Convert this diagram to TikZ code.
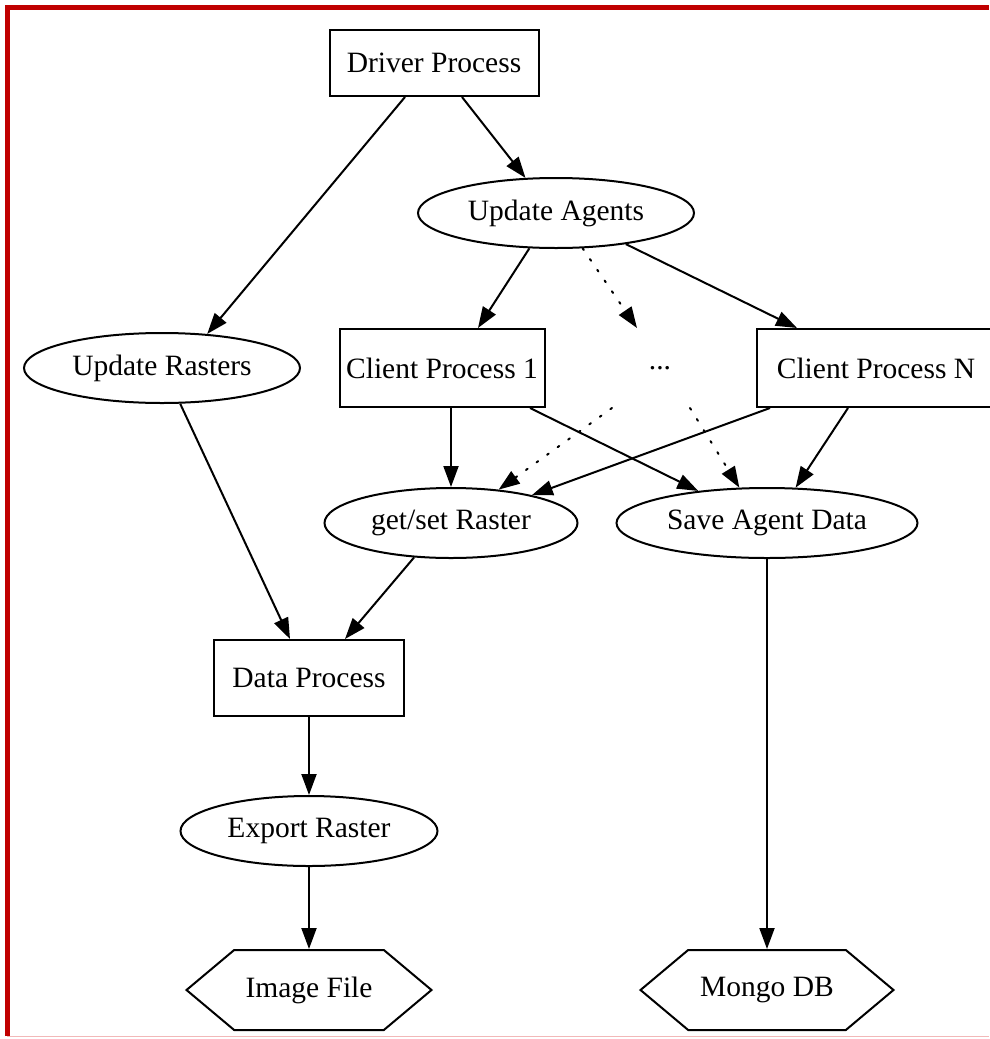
\documentclass[tikz,border=0pt]{standalone}
\usepackage{fontspec}
\setmainfont{Liberation Serif}
\usepackage{tikz}
\usetikzlibrary{arrows.meta,%
                shapes.geometric,%
                shapes.symbols}
\definecolor{frame}{HTML}{C00000}
\definecolor{framelow}{HTML}{F2B8B8}

\tikzset{
  every node/.style={font=\fontsize{29.5}{35}\selectfont, inner sep=0pt},
  procbox/.style={draw, rectangle, line width=2pt},
  task/.style={draw, ellipse, line width=2pt, minimum height=70},
  store/.style={draw, shape=signal, signal to=west and east, signal pointer angle=80,
                line width=2pt, minimum height=80},
  dotline/.style={dash pattern=on 2pt off 11pt, line cap=round}
}

\begin{document}
\begin{tikzpicture}[x=1pt, y=-1pt, line width=2pt,
                    >={Triangle[length=21pt,width=15pt]}]
        \useasboundingbox (0,0) rectangle (989,1039);
        % frame of the screenshot
        \draw[frame, line width=5pt] (7,1036) -- (7,7) -- (989,7);
        \draw[framelow, line width=1pt] (7,1036.5) -- (989,1036.5);

        \node[procbox, minimum width=209, minimum height=66] (driver) at (434,63){Driver Process};
        \node[task, minimum width=276] (agents) at (556,213){Update Agents};
        \node[task, minimum width=276] (rasters) at (162,368){Update Rasters};
        \node[procbox, minimum width=205, minimum height=78] (client1) at (442,368){Client Process 1};
        \node[minimum width=60, minimum height=78] (dots) at (660,368){...};
        \node[procbox, minimum width=238, minimum height=78] (clientN) at (876,368){Client Process N};
        \node[task, minimum width=253] (getset) at (451,523){get/set Raster};
        \node[task, minimum width=301] (save) at (767,523){Save Agent Data};
        \node[procbox, minimum width=190, minimum height=76] (data) at (309,678){Data Process};
        \node[task, minimum width=257] (export) at (309,831){Export Raster};
        \node[store, minimum width=245] (image) at (309,990){Image File};
        \node[store, minimum width=253] (mongo) at (767,990){Mongo DB};

        \draw[->] ([xshift=-29pt]driver.south) -- (rasters.37);
        \draw[->] ([xshift=28pt]driver.south) -- (agents.131);
        \draw[->] (agents.233) -- ([xshift=36pt]client1.north);
        \draw[->, dotline] (agents.307) -- ([xshift=-23pt]dots.north);
        \draw[->] (agents.336) -- ([xshift=-79pt]clientN.north);
        \draw[->] (rasters.297) -- ([xshift=-19pt]data.north);
        \draw[->] (getset.north |- client1.south) -- (getset.north);
        \draw[->] ([xshift=88pt]client1.south) -- (save.155);
        \draw[->, dotline] ([xshift=-48pt]dots.south) -- (getset.35);
        \draw[->, dotline] ([xshift=30pt]dots.south) -- (save.128);
        \draw[->] ([xshift=-106pt]clientN.south) -- (getset.19);
        \draw[->] ([xshift=-28pt]clientN.south) -- (save.51);
        \draw[->] (getset.223) -- ([xshift=36pt]data.north);
        \draw[->] (save.south) -- (mongo.north);
        \draw[->] (data.south) -- (export.north);
        \draw[->] (export.south) -- (image.north);
    \end{tikzpicture}
\end{document}
